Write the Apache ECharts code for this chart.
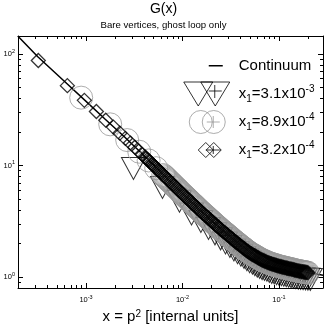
<!DOCTYPE html>
<html><head><meta charset="utf-8">
<script src="https://cdn.jsdelivr.net/npm/echarts@6/dist/echarts.min.js"></script>
<style>html,body{margin:0;padding:0;background:#fff}#c{width:327px;height:327px}</style>
</head><body><div id="c"></div>
<script>
const F = 'Liberation Sans, Arial, Helvetica, sans-serif';

// axis ranges and ticks
const xRange = [1.97e-4, 0.286];
const yRange = [0.797, 145];
const xTicks = [1e-3, 1e-2, 1e-1];
const yTicks = [1, 10, 100];
const xMinor = [2e-4,3e-4,4e-4,5e-4,6e-4,7e-4,8e-4,9e-4, 2e-3,3e-3,4e-3,5e-3,6e-3,7e-3,8e-3,9e-3, 0.02,0.03,0.04,0.05,0.06,0.07,0.08,0.09, 0.2];
const yMinor = [0.9, 2,3,4,5,6,7,8,9, 20,30,40,50,60,70,80,90];

// series names
const names = ['Continuum', 'x1=3.1e-3', 'x1=8.9e-4', 'x1=3.2e-4'];
const legendText = ['Continuum', 'x{sub|1}=3.1x10{sup|-3}', 'x{sub|1}=8.9x10{sup|-4}', 'x{sub|1}=3.2x10{sup|-4}'];

// continuum curve
const contX = [1.97e-4, 3.16e-4, 6.31e-4, 1e-3, 1.58e-3, 2.51e-3, 3.98e-3, 6.31e-3, 0.01, 0.0158, 0.0251, 0.0398, 0.0631, 0.1, 0.158, 0.251, 0.286];
const contG = [144.5, 94.4, 54.3, 37.6, 26.0, 18.0, 12.3, 8.32, 5.62, 3.85, 2.69, 1.93, 1.47, 1.26, 1.14, 1.057, 1.037];

// dense band region
const bandX = [0.003981,0.004217,0.004467,0.004732,0.005012,0.005309,0.005623,0.005957,0.00631,0.006683,0.007079,0.007499,0.007943,0.008414,0.008913,0.009441,0.01,0.01059,0.01122,0.01189,0.01259,0.01334,0.01413,0.01496,0.01585,0.01679,0.01778,0.01884,0.01995,0.02113,0.02239,0.02371,0.02512,0.02661,0.02818,0.02985,0.03162,0.0335,0.03548,0.03758,0.03981,0.04217,0.04467,0.04732,0.05012,0.05309,0.05623,0.05957,0.0631,0.06683,0.07079,0.07499,0.07943,0.08414,0.08913,0.09441,0.1,0.1059,0.1122,0.1189,0.1259,0.1334,0.1413,0.1496,0.1585,0.1679,0.1778,0.1884,0.1995,0.2113];
const bandG = [12.16,11.58,11.04,10.50,10.0,9.53,9.08,8.63,8.22,7.83,7.46,7.10,6.76,6.44,6.14,5.83,5.56,5.30,5.06,4.82,4.60,4.39,4.18,3.99,3.80,3.64,3.48,3.33,3.18,3.04,2.91,2.78,2.66,2.55,2.45,2.35,2.25,2.16,2.07,1.99,1.91,1.84,1.77,1.70,1.64,1.59,1.55,1.50,1.46,1.42,1.39,1.36,1.33,1.31,1.29,1.27,1.25,1.235,1.22,1.205,1.19,1.178,1.163,1.148,1.135,1.124,1.114,1.104,1.093];
const band2X = [0.004098,0.004341,0.004599,0.00487,0.00516,0.005464,0.005788,0.00613,0.006494,0.006879,0.007286,0.007718,0.008175,0.00866,0.009173,0.009716,0.01029,0.0109,0.01155,0.01223,0.01296,0.01372,0.01454,0.0154,0.01631,0.01728,0.0183,0.01939,0.02054,0.02175,0.02304,0.02441,0.02585,0.02738,0.02901,0.03073,0.03255,0.03448,0.03652,0.03868,0.04097,0.0434,0.04597,0.0487,0.05158,0.05464,0.05788,0.06131,0.06494,0.06879,0.07286,0.07718,0.08175,0.0866,0.09173,0.09716,0.1029,0.109,0.1155,0.1223,0.1296,0.1372,0.1454,0.154,0.1631,0.1728,0.183,0.1939];
const band2G = [11.87,11.31,10.77,10.25,9.76,9.30,8.85,8.42,8.02,7.64,7.28,6.93,6.60,6.29,5.98,5.69,5.43,5.18,4.94,4.71,4.49,4.28,4.08,3.89,3.72,3.56,3.40,3.25,3.11,2.97,2.84,2.72,2.60,2.50,2.40,2.30,2.20,2.11,2.03,1.95,1.87,1.80,1.73,1.67,1.615,1.57,1.525,1.48,1.44,1.405,1.375,1.345,1.32,1.30,1.28,1.26,1.242,1.228,1.212,1.198,1.184,1.17,1.155,1.141,1.13,1.119,1.109,1.098];

// x1 = 3.1e-3 (triangles)
const triX = [0.0031, 0.0062, 0.0093, 0.0124, 0.0155, 0.0186, 0.0217, 0.0248, 0.0279, 0.031, 0.0341, 0.0372, 0.0403, 0.0434, 0.0465, 0.0496];
const triG = [9.4, 6.35, 4.79, 3.67, 3.15, 2.73, 2.44, 2.20, 2.02, 1.88, 1.75, 1.65, 1.57, 1.50, 1.43, 1.37];
const triTailG = [1.33,1.29,1.25,1.22,1.19,1.17,1.15,1.12,1.10,1.09,1.07,1.06,1.047,1.036,1.026,1.016,1.007,0.997,0.986,0.977,0.973,0.966,0.962,0.956,0.950];

// x1 = 8.9e-4 (circles)
const circX = [8.9e-4, 1.78e-3, 2.67e-3, 3.56e-3, 4.45e-3, 5.34e-3];
const circG = [40.6, 23.4, 16.9, 13.3, 11.1, 9.46];

// x1 = 3.2e-4 (diamonds)
const diaX = [3.2e-4, 6.4e-4, 9.6e-4, 1.28e-3, 1.6e-3, 1.92e-3, 2.24e-3, 2.56e-3, 2.88e-3, 3.2e-3, 3.52e-3, 3.84e-3];
const diaG = [87.5, 52.0, 38.4, 30.5, 25.5, 22.1, 19.5, 17.5, 15.9, 14.6, 13.5, 12.5];

function pairs(xs, ys) { return xs.map((x, i) => [x, ys[i]]); }
function merged(a, b) { return a.concat(b).sort((p, q) => p[0] - q[0]); }

const contData = pairs(contX, contG);
const triData = pairs(triX, triG).concat(pairs(bandX.slice(45, 70), triTailG));
const circData = pairs(circX, circG).concat(merged(pairs(bandX.slice(8, 69), bandG.slice(8, 69)), pairs(band2X.slice(8), band2G.slice(8))));
const diaData = pairs(diaX, diaG).concat(merged(pairs(bandX.slice(1, 69), bandG.slice(1, 69)), pairs(band2X, band2G)));

function isTick(v, list) { return list.some(t => Math.abs(v / t - 1) < 1e-6); }
function expLabel(list) {
  return function (v) {
    if (!isTick(v, list)) return '';
    return '{b|10}{s|' + Math.round(Math.log10(v)) + '}';
  };
}
const tickRich = {
  b: { fontFamily: F, fontSize: 7.5, color: '#000', lineHeight: 12 },
  s: { fontFamily: F, fontSize: 5.5, color: '#000', lineHeight: 5, verticalAlign: 'top' }
};

function majorAxis(extra) {
  return Object.assign({
    type: 'log', logBase: 10, gridIndex: 0,
    axisLine: { show: true, onZero: false, lineStyle: { color: '#000', width: 1 } },
    axisTick: { show: true, inside: true, length: 5, lineStyle: { color: '#000', width: 1 } },
    minorTick: { show: false },
    splitLine: { show: false }
  }, extra);
}
const lx = xRange.map(Math.log10), ly = yRange.map(Math.log10);
function minorAxis(extra, vals) {
  return Object.assign({
    type: 'value', gridIndex: 1,
    axisLine: { show: false, onZero: false },
    axisLabel: { show: false },
    splitLine: { show: false },
    axisTick: { show: true, inside: true, length: 3, customValues: vals.map(Math.log10), lineStyle: { color: '#000', width: 1 } }
  }, extra);
}

const triIcon = 'path://M0,0M50,24M0,0L29,0L14.5,24ZM17,0L46,0L31.5,24ZM25,9L38,9M31,3L31,16';
const circIcon = 'path://M0,0M50,24M5.5,12A11.5,11.5,0,1,1,28.5,12A11.5,11.5,0,1,1,5.5,12ZM18.5,12A11.5,11.5,0,1,1,41.5,12A11.5,11.5,0,1,1,18.5,12ZM23,12L36,12M29.5,6L29.5,18';
const diaIcon = 'path://M0,0M50,24M14.5,12L22,4.5L29.5,12L22,19.5ZM22.5,12L30,4.5L37.5,12L30,19.5ZM22,12L37,12M29.5,8L29.5,16';
const lineIcon = 'path://M0,0M50,24M25,12L39,12';

const gridBox = { left: 18, right: 4, top: 36, bottom: 39, containLabel: false, outerBoundsMode: 'none' };

const chart = echarts.init(document.getElementById('c'), null, { renderer: 'canvas' });
chart.setOption({
  animation: false,
  backgroundColor: '#fff',
  title: {
    text: 'G(x)', subtext: 'Bare vertices, ghost loop only',
    left: 'center', top: 0, padding: [2, 5, 5, 22], itemGap: 4,
    textStyle: { fontFamily: F, fontSize: 14, fontWeight: 'normal', color: '#000' },
    subtextStyle: { fontFamily: F, fontSize: 9.6, color: '#000' }
  },
  grid: [Object.assign({}, gridBox), Object.assign({}, gridBox)],
  legend: {
    orient: 'vertical', left: 183, top: 53, padding: 0,
    itemWidth: 50, itemHeight: 24, itemGap: 3,
    selectedMode: false,
    formatter: function (n) { return legendText[names.indexOf(n)]; },
    textStyle: {
      fontFamily: F, fontSize: 15, color: '#000', lineHeight: 20,
      rich: {
        sub: { fontFamily: F, fontSize: 10, color: '#000', lineHeight: 10, verticalAlign: 'bottom' },
        sup: { fontFamily: F, fontSize: 10, color: '#000', lineHeight: 10, verticalAlign: 'top' }
      }
    },
    data: [
      { name: names[0], icon: lineIcon, itemStyle: { color: 'rgba(0,0,0,0)', borderColor: '#000', borderWidth: 1.5 } },
      { name: names[1], icon: triIcon, itemStyle: { color: 'rgba(0,0,0,0)', borderColor: '#000', borderWidth: 1 } },
      { name: names[2], icon: circIcon, itemStyle: { color: 'rgba(0,0,0,0)', borderColor: '#999', borderWidth: 1 } },
      { name: names[3], icon: diaIcon, itemStyle: { color: 'rgba(0,0,0,0)', borderColor: '#000', borderWidth: 1 } }
    ]
  },
  xAxis: [
    majorAxis({
      position: 'bottom', min: xRange[0], max: xRange[1],
      axisLabel: { show: true, margin: 6, formatter: expLabel(xTicks), rich: tickRich, showMinLabel: false, showMaxLabel: false, hideOverlap: false },
      name: 'x = p{s|2} [internal units]', nameLocation: 'middle', nameGap: 20,
      nameTextStyle: { fontFamily: F, fontSize: 15, color: '#000', lineHeight: 16,
        rich: { s: { fontFamily: F, fontSize: 10, color: '#000', lineHeight: 8, verticalAlign: 'top' } } }
    }),
    majorAxis({ position: 'top', min: xRange[0], max: xRange[1], axisLabel: { show: false } }),
    minorAxis({ position: 'bottom', min: lx[0], max: lx[1] }, xMinor),
    minorAxis({ position: 'top', min: lx[0], max: lx[1] }, xMinor)
  ],
  yAxis: [
    majorAxis({
      position: 'left', min: yRange[0], max: yRange[1],
      axisLabel: { show: true, margin: 3, formatter: expLabel(yTicks), rich: tickRich, showMinLabel: false, showMaxLabel: false, hideOverlap: false }
    }),
    majorAxis({ position: 'right', min: yRange[0], max: yRange[1], axisLabel: { show: false } }),
    minorAxis({ position: 'left', min: ly[0], max: ly[1] }, yMinor),
    minorAxis({ position: 'right', min: ly[0], max: ly[1] }, yMinor)
  ],
  series: [
    { name: names[0], type: 'line', data: contData, showSymbol: false, symbol: 'none', silent: true,
      lineStyle: { color: '#000', width: 1.5 }, itemStyle: { color: '#000' }, z: 2 },
    { name: names[1], type: 'scatter', data: triData, silent: true,
      symbol: 'path://M0,0L2,0L1,2Z', symbolSize: [24, 22],
      itemStyle: { color: 'rgba(0,0,0,0)', borderColor: '#000', borderWidth: 1 }, z: 3 },
    { name: names[2], type: 'scatter', data: circData, silent: true,
      symbol: 'circle', symbolSize: 23,
      itemStyle: { color: 'rgba(0,0,0,0)', borderColor: '#999', borderWidth: 1 }, z: 4 },
    { name: names[3], type: 'scatter', data: diaData, silent: true,
      symbol: 'diamond', symbolSize: [14, 14],
      itemStyle: { color: 'rgba(0,0,0,0)', borderColor: '#000', borderWidth: 1.3 }, z: 5 }
  ]
});
</script>
</body></html>
